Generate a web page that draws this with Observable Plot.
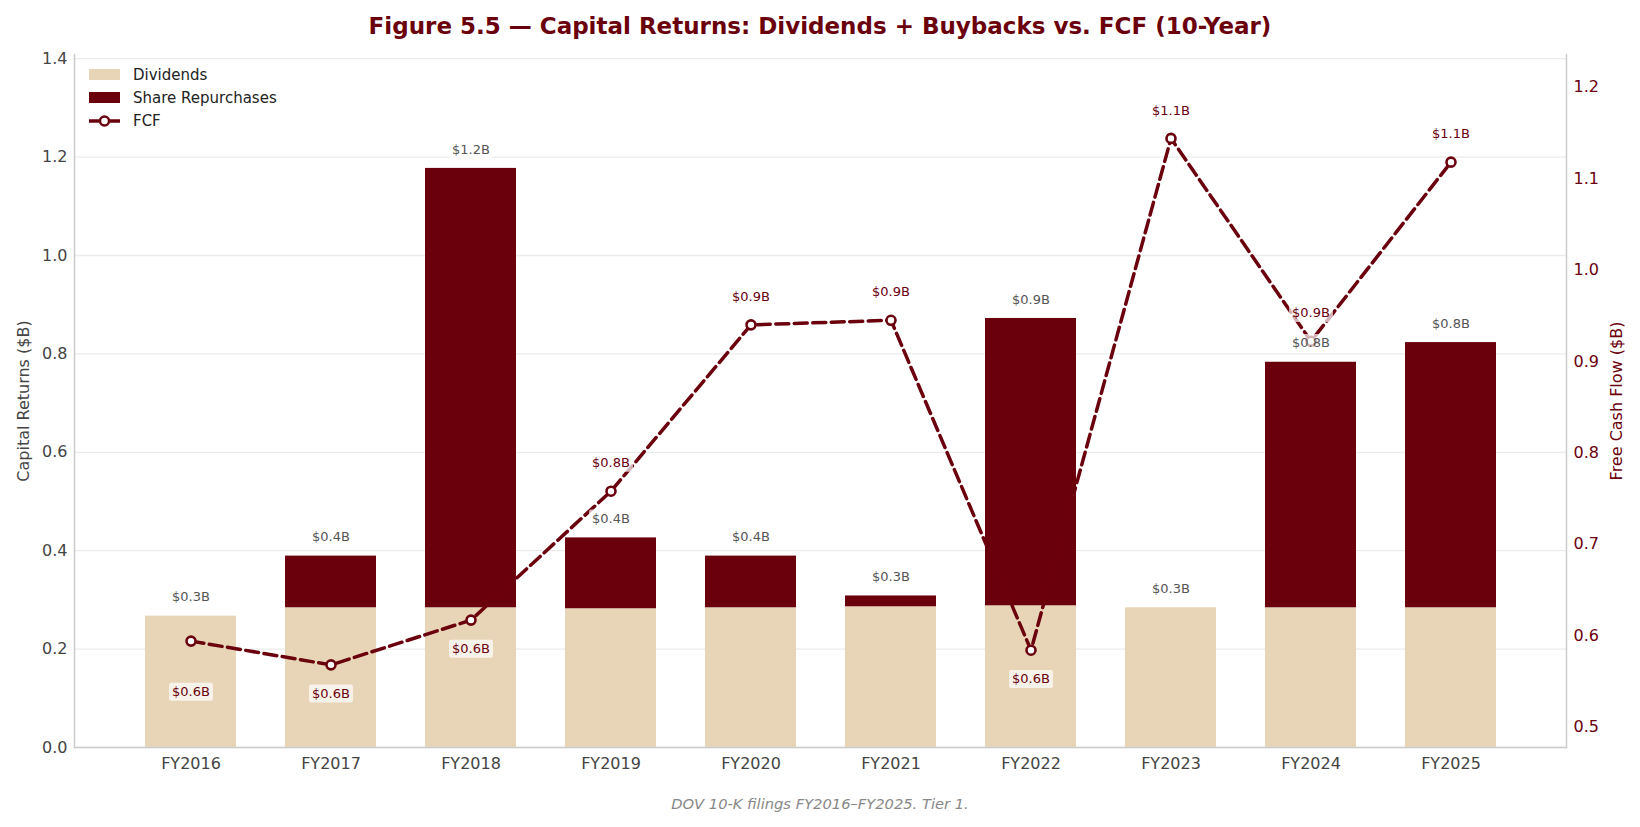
<!DOCTYPE html>
<html>
<head>
<meta charset="utf-8">
<script src="https://cdn.jsdelivr.net/npm/d3@7"></script>
<script src="https://cdn.jsdelivr.net/npm/@observablehq/plot@0.6"></script>
<style>
  body { margin: 0; background: #fff; font-family: "DejaVu Sans", sans-serif; }
  #wrap { position: relative; width: 1640px; height: 827px; overflow: hidden; }
  #title { position: absolute; left: 0; top: 1px; width: 1640px; text-align: center;
           font-weight: bold; font-size: 23px; line-height: 50px; color: #6B000D; }
  #chart { position: absolute; left: 0; top: 50px; }
  #caption { position: absolute; left: 0; top: 794px; width: 1640px; text-align: center;
             font-style: italic; font-size: 14.7px; line-height: 20px; color: #888; }
  #legend { position: absolute; left: 89px; top: 63px; font-size: 15px; color: #222; }
  #legend .row { height: 23px; display: flex; align-items: center; }
  #legend .sw { display: inline-block; width: 31px; height: 11px; margin-right: 13px; }
  #legend svg { margin-right: 13px; }
</style>
</head>
<body>
<div id="wrap">
  <div id="title">Figure 5.5 — Capital Returns: Dividends + Buybacks vs. FCF (10-Year)</div>
  <div id="chart"></div>
  <div id="legend">
    <div class="row"><span class="sw" style="background:#E8D5B7"></span>Dividends</div>
    <div class="row"><span class="sw" style="background:#6B000D"></span>Share Repurchases</div>
    <div class="row"><svg width="31" height="14"><line x1="0" y1="7" x2="31" y2="7" stroke="#6B000D" stroke-width="3.5"/><circle cx="15.5" cy="7" r="4.5" fill="#fff" stroke="#6B000D" stroke-width="2.5"/></svg>FCF</div>
  </div>
  <div id="caption">DOV 10-K filings FY2016–FY2025. Tier 1.</div>
</div>
<script>
// Fiscal years on the x axis
const years = ["FY2016", "FY2017", "FY2018", "FY2019", "FY2020", "FY2021", "FY2022", "FY2023", "FY2024", "FY2025"];
// Capital returned, $B
const dividends = [0.267, 0.284, 0.284, 0.282, 0.284, 0.286, 0.288, 0.284, 0.284, 0.284];
const buybacks  = [0.000, 0.105, 0.893, 0.144, 0.105, 0.022, 0.584, 0.000, 0.499, 0.539];
// Free cash flow, $B (right axis)
const fcf = [0.594, 0.568, 0.617, 0.758, 0.940, 0.945, 0.584, 1.144, 0.922, 1.118];
// Axis ticks
const leftTicks = [0, 0.2, 0.4, 0.6, 0.8, 1.0, 1.2, 1.4];
const rightTicks = [0.5, 0.6, 0.7, 0.8, 0.9, 1.0, 1.1, 1.2];
const seriesNames = ["Dividends", "Share Repurchases"];

const leftDomain = [0, 1.4085];
const rightDomain = [0.4776, 1.2358];
const RED = "#6B000D", TAN = "#E8D5B7";

// the FCF axis shares the pixel range of the capital-returns axis
const toLeft = v => (v - rightDomain[0]) / (rightDomain[1] - rightDomain[0]) * leftDomain[1];
const fromLeft = v => rightDomain[0] + v / leftDomain[1] * (rightDomain[1] - rightDomain[0]);
const fmtB = v => `$${v.toFixed(1)}B`;

const stacked = years.flatMap((year, i) => [
  {year, kind: seriesNames[0], value: dividends[i]},
  {year, kind: seriesNames[1], value: buybacks[i]}
]);
const totals = years.map((year, i) => ({year, total: dividends[i] + buybacks[i]}));
const fcfRows = years.map((year, i) => ({year, i, fcf: fcf[i], y: toLeft(fcf[i])}));
const fcfAbove = fcfRows.filter(d => d.fcf >= 0.7);
const fcfBelow = fcfRows.filter(d => d.fcf < 0.7 && d.i > 0);
const fcfFirst = fcfRows.filter(d => d.fcf < 0.7 && d.i === 0);

const chart = Plot.plot({
  width: 1640,
  height: 740,
  marginLeft: 74,
  marginRight: 74,
  marginTop: 4,
  marginBottom: 43,
  style: {fontFamily: "DejaVu Sans, sans-serif", fontSize: "15px", color: "#444", background: "transparent"},
  x: {domain: years, paddingInner: 0.35, paddingOuter: 0.49, align: 0.5, label: null},
  y: {domain: leftDomain, label: null},
  color: {domain: seriesNames, range: [TAN, RED]},
  marks: [
    Plot.gridY(leftTicks, {stroke: "#ebebeb", strokeOpacity: 1, strokeWidth: 1.3}),
    Plot.barY(stacked, {x: "year", y: "value", fill: "kind"}),
    Plot.frame({anchor: "left", stroke: "#ccc", strokeWidth: 1.5}),
    Plot.frame({anchor: "right", stroke: "#ccc", strokeWidth: 1.5}),
    Plot.frame({anchor: "bottom", stroke: "#ccc", strokeWidth: 1.5}),
    Plot.lineY(fcfRows, {x: "year", y: "y", stroke: RED, strokeWidth: 3.5, strokeDasharray: "13,5.5"}),
    Plot.dot(fcfRows, {x: "year", y: "y", r: 4.5, fill: "white", stroke: RED, strokeWidth: 2.6}),
    Plot.text(totals, {x: "year", y: "total", text: d => fmtB(d.total), dy: -19, fill: "#555", fontSize: 13, className: "tag-total"}),
    Plot.text(fcfAbove, {x: "year", y: "y", text: d => fmtB(d.fcf), dy: -28, fill: RED, fontSize: 13, className: "tag-fcf"}),
    Plot.text(fcfBelow, {x: "year", y: "y", text: d => fmtB(d.fcf), dy: 29, fill: RED, fontSize: 13, className: "tag-fcf"}),
    Plot.text(fcfFirst, {x: "year", y: "y", text: d => fmtB(d.fcf), dy: 51, fill: RED, fontSize: 13, className: "tag-fcf"}),
    Plot.axisY(leftTicks, {anchor: "left", tickSize: 0, tickPadding: 7, tickFormat: d => d.toFixed(1), fontSize: 16, fill: "#444", label: null}),
    Plot.axisY(rightTicks.map(toLeft), {anchor: "right", tickSize: 0, tickPadding: 7, tickFormat: d => fromLeft(d).toFixed(1), fontSize: 16, fill: RED, label: null}),
    Plot.axisX({tickSize: 0, tickPadding: 10, fontSize: 16, fill: "#444", label: null}),
    Plot.text(["Capital Returns ($B)"], {frameAnchor: "left", textAnchor: "middle", rotate: -90, dx: -51, fontSize: 16, fill: "#444"}),
    Plot.text(["Free Cash Flow ($B)"], {frameAnchor: "right", textAnchor: "middle", rotate: -90, dx: 50, fontSize: 16, fill: RED})
  ]
});

document.getElementById("chart").appendChild(chart);

// translucent white boxes behind the value labels
const svg = d3.select(chart);
svg.selectAll("g.tag-fcf text, g.tag-total text").each(function () {
  const b = this.getBBox();
  const t = this.getAttribute("transform");
  const r = d3.select(this.parentNode).insert("rect", () => this)
    .attr("x", b.x - 3).attr("y", b.y - 1.5)
    .attr("width", b.width + 6).attr("height", b.height + 3)
    .attr("rx", 2).attr("fill", "white").attr("fill-opacity", 0.7)
    .attr("stroke", "none");
  if (t) r.attr("transform", t);
});
</script>
</body>
</html>
